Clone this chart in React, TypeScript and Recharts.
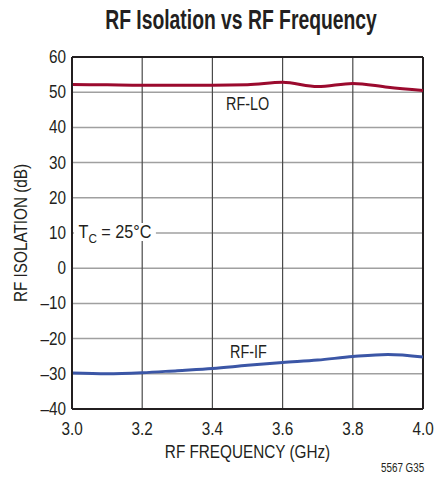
import {
  LineChart,
  Line,
  XAxis,
  YAxis,
  CartesianGrid,
  ReferenceLine,
  Label,
} from 'recharts';

const freqs = [3.0, 3.1, 3.2, 3.3, 3.4, 3.5, 3.6, 3.7, 3.8, 3.9, 4.0];
const rfLo = [52.2, 52.1, 52.0, 52.0, 52.0, 52.1, 52.8, 51.6, 52.5, 51.4, 50.5];
const rfIf = [-29.8, -30.0, -29.7, -29.1, -28.5, -27.6, -26.8, -26.1, -25.1, -24.5, -25.2];

const xTicks = [3.0, 3.2, 3.4, 3.6, 3.8, 4.0];
const yTicks = [-40, -30, -20, -10, 0, 10, 20, 30, 40, 50, 60];

const font = '"Liberation Sans", Arial, sans-serif';
const ink = '#231f20';
const squeeze = 0.85;

const chartData = freqs.map((f, i) => ({ f, lo: rfLo[i], rif: rfIf[i] }));

const fmtY = (v: number) => (v < 0 ? `\u2013${Math.abs(v)}` : `${v}`);

// narrow text: the reference uses a condensed face that isn't installed
const XTick = ({ x, y, payload }: any) => (
  <text
    transform={`translate(${x},${y + 18}) scale(${squeeze},1)`}
    textAnchor="middle"
    fill={ink}
    fontSize={18}
    fontFamily={font}
  >
    {Number(payload.value).toFixed(1)}
  </text>
);

const YTick = ({ x, y, payload }: any) => (
  <text
    transform={`translate(${x + 2},${y + 6}) scale(${squeeze},1)`}
    textAnchor="end"
    fill={ink}
    fontSize={18}
    fontFamily={font}
  >
    {fmtY(payload.value)}
  </text>
);

const Narrow = ({ left, top, size = 18, scale = squeeze, bg, children }: any) => (
  <div
    style={{
      position: 'absolute',
      left,
      top,
      fontSize: size,
      lineHeight: 1,
      color: ink,
      whiteSpace: 'nowrap',
      transform: `scaleX(${scale})`,
      transformOrigin: 'left top',
      background: bg,
      padding: bg ? '0 5px' : 0,
    }}
  >
    {children}
  </div>
);

const App = () => {
  return (
    <div style={{ position: 'relative', width: 438, height: 479, fontFamily: font, background: '#fff', overflow: 'hidden' }}>
      <style>{`body{margin:0}`}</style>
      <div
        style={{
          position: 'absolute',
          top: 5,
          left: 0,
          width: 482,
          textAlign: 'center',
          fontSize: 28,
          lineHeight: 1.1,
          fontWeight: 'bold',
          color: ink,
          transform: 'scaleX(0.69)',
          transformOrigin: '241px 0',
        }}
      >
        RF Isolation vs RF Frequency
      </div>
      <LineChart
        width={438}
        height={479}
        data={chartData}
        margin={{ top: 57, right: 15, bottom: 0, left: 0 }}
      >
        <CartesianGrid horizontal vertical={false} stroke="#a0a0a0" strokeWidth={1.5} />
        <CartesianGrid horizontal={false} vertical stroke="#4a4a4a" strokeWidth={1.2} />
        <XAxis
          dataKey="f"
          type="number"
          domain={[3, 4]}
          ticks={xTicks}
          height={70}
          tickLine={false}
          axisLine={{ stroke: ink, strokeWidth: 2 }}
          tick={<XTick />}
        >
          <Label
            content={({ viewBox }: any) => (
              <text
                transform={`translate(${viewBox.x + viewBox.width / 2},${viewBox.y + 49}) scale(${squeeze},1)`}
                textAnchor="middle"
                fill={ink}
                fontSize={18}
                fontFamily={font}
              >
                RF FREQUENCY (GHz)
              </text>
            )}
          />
        </XAxis>
        <YAxis
          type="number"
          domain={[-40, 60]}
          ticks={yTicks}
          interval={0}
          width={72}
          tickLine={false}
          axisLine={{ stroke: ink, strokeWidth: 2 }}
          tick={<YTick />}
        >
          <Label
            content={({ viewBox }: any) => (
              <text
                transform={`translate(27,${viewBox.y + viewBox.height / 2}) rotate(-90) scale(${squeeze},1)`}
                textAnchor="middle"
                fill={ink}
                fontSize={18}
                fontFamily={font}
              >
                RF ISOLATION (dB)
              </text>
            )}
          />
        </YAxis>
        <ReferenceLine y={60} stroke={ink} strokeWidth={2} />
        <ReferenceLine x={4} stroke={ink} strokeWidth={2} />
        <Line
          type="monotone"
          dataKey="lo"
          stroke="#9b0a2e"
          strokeWidth={3}
          dot={false}
          isAnimationActive={false}
        />
        <Line
          type="monotone"
          dataKey="rif"
          stroke="#3b56a6"
          strokeWidth={3}
          dot={false}
          isAnimationActive={false}
        />
      </LineChart>
      <Narrow left={226} top={95} scale={0.8}>RF-LO</Narrow>
      <Narrow left={230} top={343} scale={0.8}>RF-IF</Narrow>
      <Narrow left={74} top={223} scale={0.9} bg="#fff">
        T<span style={{ fontSize: 13, position: 'relative', top: 5 }}>C</span> = 25°C
      </Narrow>
      <Narrow left={381} top={462} size={12} scale={0.82}>5567 G35</Narrow>
    </div>
  );
};

export default App;
